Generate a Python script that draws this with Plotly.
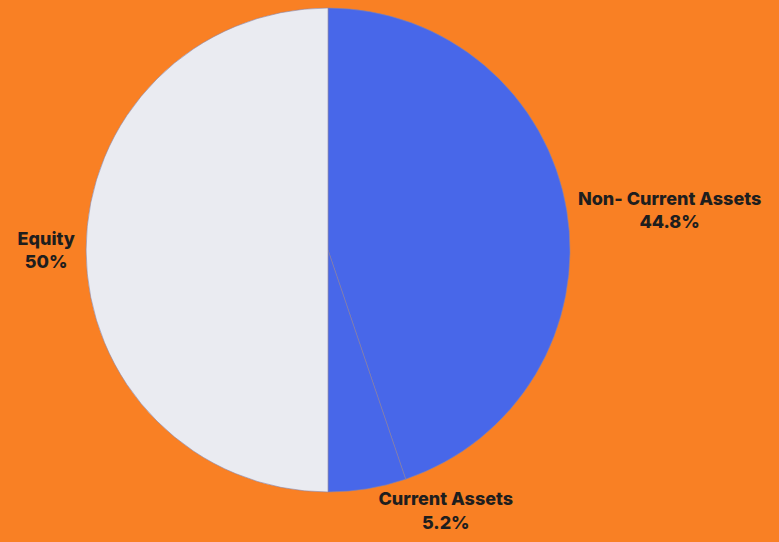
import plotly.graph_objects as go

labels = ["Non- Current Assets", "Current Assets", "Equity"]
values = [44.8, 5.2, 50.0]
colors = ["#4867E9", "#4867E9", "#EAEBF1"]

W, H = 779, 542
fig = go.Figure(go.Pie(
    labels=labels,
    values=values,
    sort=False,
    direction="clockwise",
    rotation=0,
    marker=dict(colors=colors, line=dict(color="#8a84a8", width=0.6)),
    textposition="outside",
    texttemplate="%{label}<br>%{percent}",
    textfont=dict(family="Inter", size=18, color="#1e1e1e", weight=800),
    hoverinfo="label+percent",
    domain=dict(x=[(328 - 242) / W, (328 + 242) / W], y=[0, 1]),
    showlegend=False,
))
fig.update_layout(
    width=W, height=H,
    paper_bgcolor="#F98024",
    plot_bgcolor="#F98024",
    margin=dict(l=0, r=0, t=8, b=50),
)
fig.write_html(
    "out.html",
    config={"displayModeBar": False},
    post_script="document.body.style.margin='0';document.body.style.overflow='hidden';document.body.style.background='#F98024';",
)
